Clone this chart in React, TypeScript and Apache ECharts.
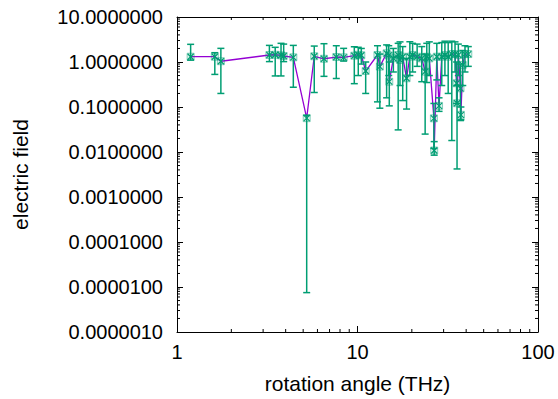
import React, { useEffect, useRef } from "react";
import * as echarts from "echarts";

// rotation angle (THz)
const xs = [1.19, 1.62, 1.75, 3.25, 3.5, 3.77, 3.9, 4.41, 5.23, 5.76, 6.52, 7.63, 8.38, 9.6, 10.1, 10.5, 11.1,
  12.9, 13.3, 14.5, 14.9, 15.0, 15.8, 16.8, 17.2, 17.8, 18.7, 19.5, 20.2, 21.4, 22.7, 23.7, 24.2, 25.0,
  26.5, 26.6, 27.5, 28.3, 29.3, 30.5, 31.8, 33.3, 34.7, 35.4, 35.6, 36.2, 37.2, 37.4, 38.3, 39.4, 41.1];
// electric field
const ys = [1.31, 1.31, 1.04, 1.43, 1.45, 1.41, 1.36, 1.27, 0.0565, 1.34, 1.18, 1.29, 1.27, 1.38, 1.45, 1.41, 0.63,
  1.43, 0.79, 1.56, 1.4, 0.365, 1.21, 1.43, 1.11, 1.31, 0.435, 1.31, 1.43, 1.31, 1.2, 0.61, 1.31, 1.2,
  0.056, 0.0108, 1.31, 0.106, 1.31, 1.43, 1.31, 1.5, 1.5, 0.337, 0.121, 1.43, 0.26, 0.067, 0.86, 1.5, 1.5];
// error bar lower ends
const yLow = [1.1, 0.53, 0.2, 1.02, 0.49, 0.49, 1.02, 0.275, 0.0000075, 0.21, 0.48, 0.43, 1.05, 0.33, 0.5, 0.9, 0.2,
  0.13, 0.094, 0.16, 0.5, 0.106, 0.6, 0.031, 0.3, 0.139, 0.09, 0.5, 0.6, 0.8, 0.365, 0.025, 0.35, 0.5,
  0.012, 0.0085, 0.4, 0.08, 0.3, 0.5, 0.2, 0.018, 0.6, 0.12, 0.0042, 0.5, 0.05, 0.052, 0.3, 0.6, 0.8];
// error bar upper ends
const yHigh = [2.47, 1.61, 2.01, 2.34, 2.12, 2.6, 2.5, 2.34, 0.065, 2.26, 2.55, 2.3, 2.01, 2.18, 2.12, 2.0, 1.0,
  2.3, 1.5, 2.4, 2.3, 1.0, 2.0, 2.6, 2.8, 2.2, 1.2, 2.82, 2.6, 2.5, 2.2, 1.5, 2.6, 2.8,
  0.12, 0.017, 2.6, 0.16, 2.7, 2.9, 2.7, 2.9, 2.8, 1.0, 0.3, 2.5, 0.9, 0.1, 1.8, 2.3, 2.2];

const xDecades = [1, 10];
const yDecades = [0.000001, 0.00001, 0.0001, 0.001, 0.01, 0.1, 1];
const minorMultipliers = [2, 3, 4, 5, 6, 7, 8, 9];

const PURPLE = "#9400d3";
const GREEN = "#009e73";
const FONT = "'Liberation Sans', Arial, sans-serif";

export default function App() {
  const ref = useRef<HTMLDivElement>(null);
  useEffect(() => {
    if (!ref.current) return;
    const chart = echarts.init(ref.current, null, { renderer: "svg" });
    const pts = xs.map((x, i) => [x, ys[i], yLow[i], yHigh[i]]);
    const minor: number[][] = [];
    xDecades.forEach((d) => minorMultipliers.forEach((m) => minor.push([d * m, 1, 0])));
    yDecades.forEach((d) => minorMultipliers.forEach((m) => minor.push([2, d * m, 1])));

    const axisCommon = {
      type: "log" as const,
      logBase: 10,
      axisLine: { show: true, lineStyle: { color: "#000", width: 1 } },
      axisTick: { show: true, inside: true, length: 6, lineStyle: { color: "#000", width: 1 } },
      splitLine: { show: false },
    };

    chart.setOption({
      animation: false,
      backgroundColor: "#fff",
      grid: { left: 177, right: 20, top: 17, bottom: 66, containLabel: false },
      xAxis: [
        {
          ...axisCommon,
          min: 1,
          max: 100,
          interval: 1,
          position: "bottom",
          axisLabel: {
            color: "#000",
            fontSize: 20,
            fontFamily: FONT,
            margin: 10,
            formatter: (v: number) => String(Math.round(v)),
          },
          name: "rotation angle (THz)",
          nameLocation: "middle",
          nameGap: 41,
          nameTextStyle: { color: "#000", fontSize: 21, fontFamily: FONT },
        },
        {
          ...axisCommon,
          min: 1,
          max: 100,
          interval: 1,
          position: "top",
          axisLabel: { show: false },
        },
      ],
      yAxis: [
        {
          ...axisCommon,
          min: 0.000001,
          max: 10,
          interval: 1,
          position: "left",
          axisLabel: {
            color: "#000",
            fontSize: 20,
            fontFamily: FONT,
            margin: 14,
            formatter: (v: number) => v.toFixed(7),
          },
          name: "electric field",
          nameLocation: "middle",
          nameRotate: 90,
          nameGap: 146,
          nameTextStyle: { color: "#000", fontSize: 21, fontFamily: FONT },
        },
        {
          ...axisCommon,
          min: 0.000001,
          max: 10,
          interval: 1,
          position: "right",
          axisLabel: { show: false },
        },
      ],
      series: [
        {
          type: "custom",
          name: "minorTicks",
          data: minor,
          silent: true,
          z: 1,
          renderItem: (params: any, api: any) => {
            const v0 = api.value(0);
            const v1 = api.value(1);
            const kind = api.value(2);
            const st = { stroke: "#000", lineWidth: 1 };
            const L = 3;
            if (kind === 0) {
              const b = api.coord([v0, 0.000001]);
              const t = api.coord([v0, 10]);
              return {
                type: "group",
                children: [
                  { type: "line", shape: { x1: b[0], y1: b[1], x2: b[0], y2: b[1] - L }, style: st },
                  { type: "line", shape: { x1: t[0], y1: t[1], x2: t[0], y2: t[1] + L }, style: st },
                ],
              };
            }
            const l = api.coord([1, v1]);
            const r = api.coord([100, v1]);
            return {
              type: "group",
              children: [
                { type: "line", shape: { x1: l[0], y1: l[1], x2: l[0] + L, y2: l[1] }, style: st },
                { type: "line", shape: { x1: r[0], y1: r[1], x2: r[0] - L, y2: r[1] }, style: st },
              ],
            };
          },
        },
        {
          type: "line",
          name: "line",
          data: xs.map((x, i) => [x, ys[i]]),
          showSymbol: false,
          lineStyle: { color: PURPLE, width: 1.3 },
          itemStyle: { color: PURPLE },
          z: 2,
        },
        {
          type: "custom",
          name: "errorbars",
          data: pts,
          z: 3,
          renderItem: (params: any, api: any) => {
            const x = api.value(0);
            const lo = api.value(2);
            const hi = api.value(3);
            const l = api.coord([x, lo]);
            const h = api.coord([x, hi]);
            const st = { stroke: GREEN, lineWidth: 1.5 };
            const w = 3.5;
            return {
              type: "group",
              children: [
                { type: "line", shape: { x1: l[0], y1: l[1], x2: l[0], y2: h[1] }, style: st },
                { type: "line", shape: { x1: l[0] - w, y1: l[1], x2: l[0] + w, y2: l[1] }, style: st },
                { type: "line", shape: { x1: h[0] - w, y1: h[1], x2: h[0] + w, y2: h[1] }, style: st },
              ],
            };
          },
        },
        {
          type: "custom",
          name: "markers",
          data: pts,
          z: 4,
          renderItem: (params: any, api: any) => {
            const c = api.coord([api.value(0), api.value(1)]);
            const s = 3;
            const st = { stroke: GREEN, lineWidth: 1.2 };
            return {
              type: "group",
              children: [
                {
                  type: "rect",
                  shape: { x: c[0] - s - 0.5, y: c[1] - s - 0.5, width: 2 * s + 1, height: 2 * s + 1 },
                  style: { fill: "rgba(0,158,115,0.12)", stroke: "rgba(0,158,115,0.45)", lineWidth: 1 },
                },
                { type: "line", shape: { x1: c[0] - s, y1: c[1] - s, x2: c[0] + s, y2: c[1] + s }, style: st },
                { type: "line", shape: { x1: c[0] - s, y1: c[1] + s, x2: c[0] + s, y2: c[1] - s }, style: st },
              ],
            };
          },
        },
      ],
    });
    return () => chart.dispose();
  }, []);
  return (
    <div
      ref={ref}
      style={{ position: "fixed", left: 0, top: 0, width: 558, height: 399, background: "#fff" }}
    />
  );
}
